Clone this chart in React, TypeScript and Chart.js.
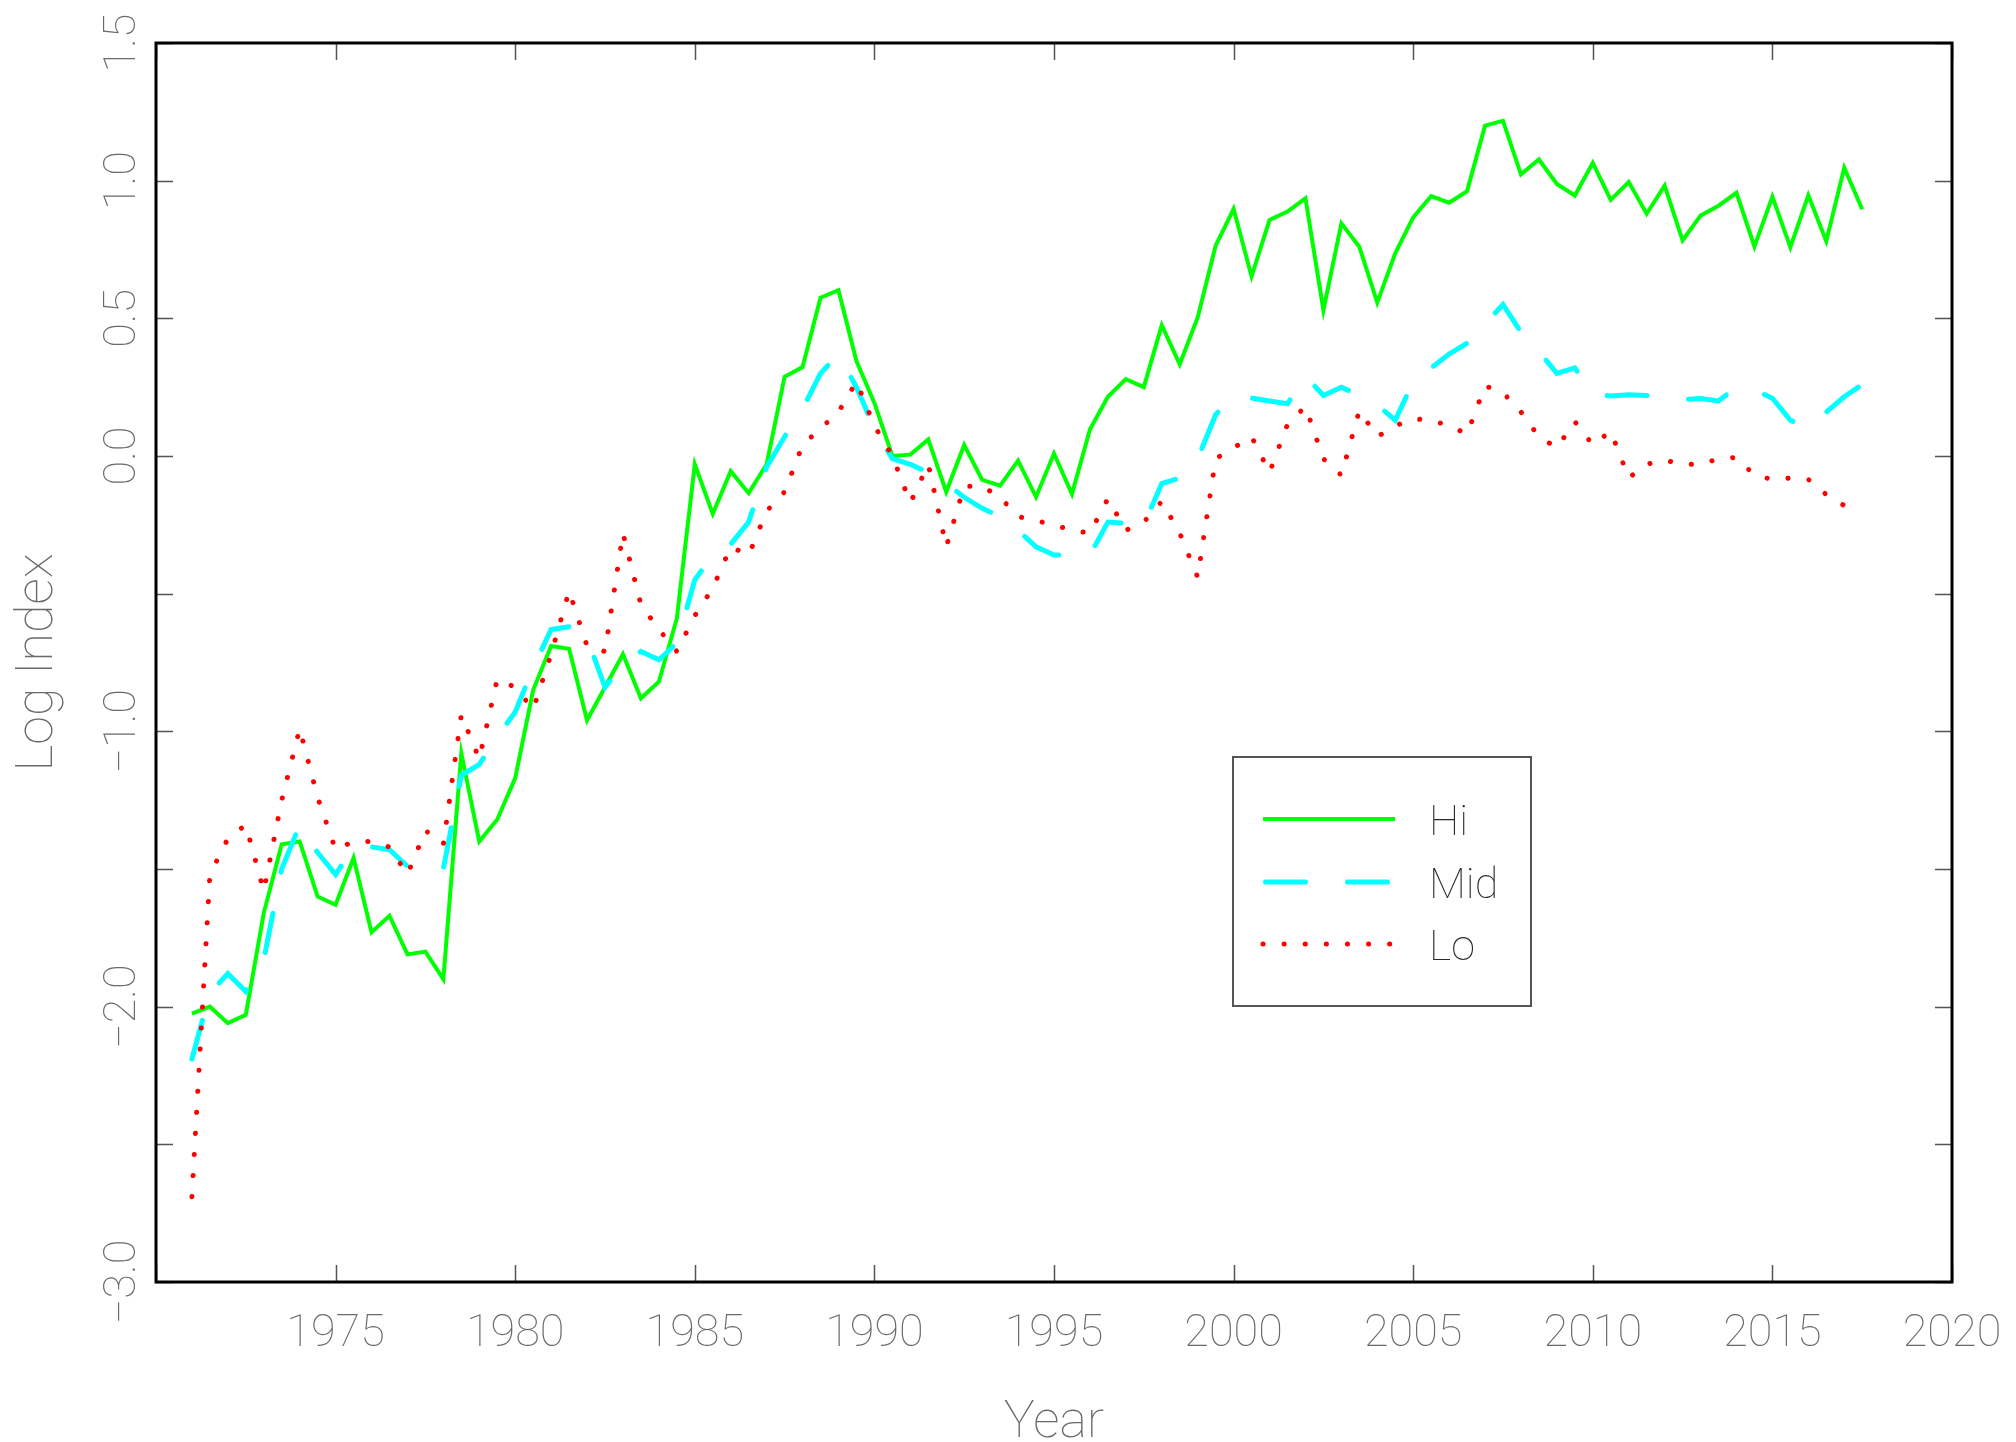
import React, { useEffect, useRef } from "react";
import { Chart, registerables } from "chart.js";

Chart.register(...registerables);

// Half-yearly observations, first one at 1971.0, one every 0.5 year
const FIRST_YEAR = 1971;
const STEP = 0.5;

const HI = [
  -2.025, -2.0, -2.06, -2.03, -1.66, -1.41, -1.4, -1.6, -1.63, -1.46,
  -1.73, -1.67, -1.81, -1.8, -1.9, -1.08, -1.4, -1.32, -1.17, -0.85,
  -0.69, -0.7, -0.96, -0.84, -0.72, -0.88, -0.82, -0.59, -0.03, -0.21,
  -0.055, -0.135, -0.03, 0.288, 0.323, 0.575, 0.602, 0.345, 0.193, 0.0,
  0.005, 0.06, -0.13, 0.04, -0.087, -0.108, -0.017, -0.149, 0.009, -0.138,
  0.096, 0.215, 0.279, 0.25, 0.475, 0.333, 0.503, 0.764, 0.897, 0.652,
  0.857, 0.888, 0.936, 0.53, 0.845, 0.76, 0.557, 0.736, 0.867, 0.944,
  0.92, 0.962, 1.2, 1.217, 1.023, 1.077, 0.988, 0.946, 1.065, 0.93,
  0.995, 0.88, 0.982, 0.783, 0.873, 0.909, 0.956, 0.76, 0.942, 0.758,
  0.947, 0.78, 1.047, 0.896,
];

const MID = [
  -2.19, -1.95, -1.88, -1.945, -1.83, -1.5, -1.34, -1.44, -1.52, -1.42,
  -1.42, -1.43, -1.49, -1.47, -1.5, -1.16, -1.12, -1.02, -0.93, -0.77,
  -0.63, -0.62, -0.66, -0.84, -0.76, -0.71, -0.74, -0.68, -0.45, -0.36,
  -0.32, -0.24, -0.04, 0.07, 0.17, 0.3, 0.37, 0.25, 0.1, -0.01,
  -0.03, -0.06, -0.1, -0.15, -0.19, -0.22, -0.27, -0.33, -0.36, -0.36,
  -0.36, -0.24, -0.245, -0.25, -0.1, -0.08, -0.01, 0.15, 0.22, 0.21,
  0.2, 0.19, 0.29, 0.22, 0.25, 0.22, 0.185, 0.13, 0.27, 0.32,
  0.37, 0.41, 0.48, 0.55, 0.45, 0.38, 0.3, 0.32, 0.225, 0.218,
  0.222, 0.22, 0.205, 0.205, 0.209, 0.2, 0.25, 0.24, 0.21, 0.13,
  0.1, 0.16, 0.215, 0.26,
];

const LO = [
  -2.69, -1.52, -1.39, -1.34, -1.58, -1.25, -0.99, -1.24, -1.43, -1.4,
  -1.4, -1.42, -1.52, -1.36, -1.41, -0.94, -1.1, -0.81, -0.84, -0.92,
  -0.72, -0.49, -0.69, -0.71, -0.28, -0.54, -0.63, -0.71, -0.58, -0.48,
  -0.33, -0.36, -0.2, -0.13, 0.04, 0.1, 0.16, 0.27, 0.11, 0.0,
  -0.17, -0.03, -0.33, -0.11, -0.11, -0.15, -0.22, -0.235, -0.25, -0.27,
  -0.28, -0.155, -0.27, -0.24, -0.165, -0.28, -0.44, -0.01, 0.03, 0.07,
  -0.06, 0.115, 0.18, -0.01, -0.07, 0.165, 0.07, 0.11, 0.135, 0.13,
  0.11, 0.08, 0.255, 0.23, 0.16, 0.07, 0.03, 0.125, 0.04, 0.09,
  -0.08, -0.03, -0.015, -0.03, -0.03, -0.01, -0.005, -0.07, -0.085, -0.08,
  -0.085, -0.14, -0.18, -0.2,
];

const SERIES_NAMES = ["Hi", "Mid", "Lo"];

const X_MIN = 1970;
const X_MAX = 2020;
const Y_MIN = -3.0;
const Y_MAX = 1.5;

const X_TICKS = [1970, 1975, 1980, 1985, 1990, 1995, 2000, 2005, 2010, 2015, 2020];
const X_TICK_LABELS = ["", "1975", "1980", "1985", "1990", "1995", "2000", "2005", "2010", "2015", "2020"];
const Y_TICKS = [-3.0, -2.5, -2.0, -1.5, -1.0, -0.5, 0.0, 0.5, 1.0, 1.5];
const Y_TICK_LABELS = ["\u22123.0", "", "\u22122.0", "", "\u22121.0", "", "0.0", "0.5", "1.0", "1.5"];

const X_TITLE = "Year";
const Y_TITLE = "Log Index";

const GREEN = "#00ff00";
const CYAN = "#00ffff";
const RED = "#ff0000";
const MID_DASH = [40, 42];
const LO_DASH = [0.1, 21];
const AXIS_TEXT = "#6a6a6a";
const FONT = "Roboto";
const WEIGHT = 100;

const toPoints = (vals: number[]) =>
  vals.map((v, i) => ({ x: FIRST_YEAR + i * STEP, y: v }));

const framePlugin = {
  id: "frame",
  afterDraw(chart: any) {
    const { ctx, chartArea, scales } = chart;
    const xs = scales.x;
    const ys = scales.y;
    const { left, right, top, bottom } = chartArea;
    ctx.save();

    // ticks (inward, all four sides)
    ctx.strokeStyle = "#555";
    ctx.lineWidth = 1.5;
    ctx.setLineDash([]);
    const TL = 17;
    Y_TICKS.forEach((v) => {
      const y = Math.round(ys.getPixelForValue(v)) + 0.5;
      ctx.beginPath();
      ctx.moveTo(left, y);
      ctx.lineTo(left + TL, y);
      ctx.moveTo(right, y);
      ctx.lineTo(right - TL, y);
      ctx.stroke();
    });
    X_TICKS.forEach((v) => {
      const x = Math.round(xs.getPixelForValue(v)) + 0.5;
      ctx.beginPath();
      ctx.moveTo(x, bottom);
      ctx.lineTo(x, bottom - TL);
      ctx.moveTo(x, top);
      ctx.lineTo(x, top + TL);
      ctx.stroke();
    });

    // frame
    ctx.strokeStyle = "#000";
    ctx.lineWidth = 3;
    ctx.strokeRect(left, top, right - left, bottom - top);

    // x tick labels
    ctx.fillStyle = AXIS_TEXT;
    ctx.font = `${WEIGHT} 45px ${FONT}`;
    ctx.textAlign = "center";
    ctx.textBaseline = "alphabetic";
    X_TICKS.forEach((v, i) => {
      const lab = X_TICK_LABELS[i];
      if (!lab) return;
      ctx.fillText(lab, xs.getPixelForValue(v), bottom + 64);
    });

    // y tick labels (rotated)
    Y_TICKS.forEach((v, i) => {
      const lab = Y_TICK_LABELS[i];
      if (!lab) return;
      ctx.save();
      ctx.translate(left - 21, ys.getPixelForValue(v));
      ctx.rotate(-Math.PI / 2);
      ctx.fillText(lab, 0, 0);
      ctx.restore();
    });

    // axis titles
    ctx.font = `${WEIGHT} 52px ${FONT}`;
    ctx.fillText(X_TITLE, (left + right) / 2, bottom + 155);
    ctx.save();
    ctx.translate(left - 104, (top + bottom) / 2);
    ctx.rotate(-Math.PI / 2);
    ctx.fillText(Y_TITLE, 0, 0);
    ctx.restore();

    // legend
    const bx = 1233, by = 757, bw = 298, bh = 249;
    ctx.fillStyle = "#fff";
    ctx.fillRect(bx, by, bw, bh);
    ctx.strokeStyle = "#555";
    ctx.lineWidth = 2;
    ctx.strokeRect(bx, by, bw, bh);
    const rows = [
      { y: 819, color: GREEN, width: 4, dash: [] as number[], cap: "butt", x0: 1263, x1: 1395 },
      { y: 882, color: CYAN, width: 5, dash: MID_DASH, cap: "round", x0: 1265.5, x1: 1393 },
      { y: 944, color: RED, width: 5, dash: LO_DASH, cap: "round", x0: 1263, x1: 1392 },
    ];
    rows.forEach((r, i) => {
      ctx.beginPath();
      ctx.strokeStyle = r.color;
      ctx.lineWidth = r.width;
      ctx.lineCap = r.cap;
      ctx.setLineDash(r.dash);
      ctx.moveTo(r.x0, r.y);
      ctx.lineTo(r.x1, r.y);
      ctx.stroke();
      ctx.setLineDash([]);
      ctx.fillStyle = "#2a2a2a";
      ctx.font = `${WEIGHT} 43px ${FONT}`;
      ctx.textAlign = "left";
      ctx.fillText(SERIES_NAMES[i], 1429, r.y + 16);
    });

    ctx.restore();
  },
};

export default function App() {
  const ref = useRef<HTMLCanvasElement | null>(null);

  useEffect(() => {
    if (!ref.current) return;
    const chart = new Chart(ref.current, {
      type: "line",
      data: {
        datasets: [
          {
            label: SERIES_NAMES[0],
            data: toPoints(HI),
            borderColor: GREEN,
            borderWidth: 4,
            pointRadius: 0,
            tension: 0,
            borderJoinStyle: "miter",
            order: 3,
          },
          {
            label: SERIES_NAMES[1],
            data: toPoints(MID),
            borderColor: CYAN,
            borderWidth: 5,
            borderDash: MID_DASH,
            borderCapStyle: "round",
            pointRadius: 0,
            tension: 0,
            order: 2,
          },
          {
            label: SERIES_NAMES[2],
            data: toPoints(LO),
            borderColor: RED,
            borderWidth: 5,
            borderDash: LO_DASH,
            borderCapStyle: "round",
            pointRadius: 0,
            tension: 0,
            order: 1,
          },
        ],
      },
      options: {
        animation: false,
        responsive: false,
        devicePixelRatio: 1,
        layout: { padding: { left: 156, right: 64, top: 43, bottom: 160 } },
        plugins: { legend: { display: false }, tooltip: { enabled: false } },
        scales: {
          x: { type: "linear", min: X_MIN, max: X_MAX, display: false },
          y: { type: "linear", min: Y_MIN, max: Y_MAX, display: false },
        },
      },
      plugins: [framePlugin],
    } as any);
    return () => chart.destroy();
  }, []);

  return (
    <div style={{ position: "absolute", left: 0, top: 0, width: 2016, height: 1442, background: "#fff" }}>
      <canvas ref={ref} width={2016} height={1442} style={{ display: "block" }} />
    </div>
  );
}
